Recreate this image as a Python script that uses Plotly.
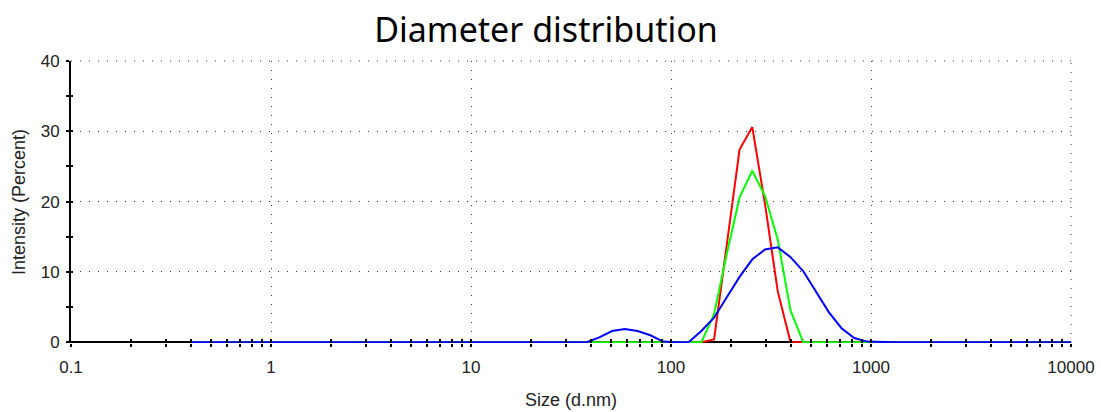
import plotly.graph_objects as go

# Size bins (d.nm)
sizes = [0.4, 0.4632, 0.5365, 0.6213, 0.7195, 0.8332, 0.9649, 1.117, 1.294, 1.499,
         1.736, 2.01, 2.328, 2.696, 3.122, 3.615, 4.187, 4.849, 5.615, 6.503,
         7.531, 8.721, 10.1, 11.7, 13.54, 15.69, 18.17, 21.04, 24.36, 28.21,
         32.67, 37.84, 43.82, 50.75, 58.77, 68.06, 78.82, 91.28, 105.7, 122.4,
         141.8, 164.2, 190.1, 220.2, 255.0, 295.3, 342.0, 396.1, 458.7, 531.2,
         615.1, 712.4, 825.0, 955.4, 1106, 1281, 1484, 1718, 1990, 2305,
         2669, 3091, 3580, 4145, 4801, 5560, 6439, 7456, 8635, 10000]

# Intensity (%) per bin
red_vals = [0] * 40 + [0, 0.4, 13.8, 27.4, 30.6, 19.6, 7.2, 0] + [0] * 22
green_vals = [0] * 40 + [0, 4.0, 12.6, 20.6, 24.4, 20.8, 14.6, 4.5, 0] + [0] * 21
blue_vals = ([0] * 32
             + [0.7, 1.6, 1.9, 1.6, 1.0, 0.1, 0, 0,
                1.6, 3.5, 6.4, 9.3, 11.8, 13.2, 13.5, 12.1, 10.1, 7.2, 4.3, 2.0, 0.6, 0.1, 0]
             + [0] * 15)

x_tickvals = [0.1, 1, 10, 100, 1000, 10000]
x_ticktext = ["0.1", "1", "10", "100", "1000", "10000"]
x_minor = [m * 10 ** e for e in range(-1, 4) for m in range(2, 10)]
y_tickvals = [0, 10, 20, 30, 40]
y_minor = [5, 15, 25, 35]
Y_RANGE = [-0.1, 40]

GRID_COLOR = "#333333"
GRID_DASH = "1px,8px"

fig = go.Figure()
for vals, col in [(red_vals, "#ff0000"), (green_vals, "#00ff00"), (blue_vals, "#0000ff")]:
    fig.add_trace(go.Scatter(x=sizes, y=vals, mode="lines",
                             line=dict(color=col, width=2), showlegend=False,
                             hoverinfo="skip"))
# invisible trace on overlay axes (for crossing ticks)
fig.add_trace(go.Scatter(x=[1], y=[0], xaxis="x2", yaxis="y2", mode="markers",
                         marker=dict(opacity=0), showlegend=False, hoverinfo="skip"))

tickfont = dict(family="Liberation Sans, Arial, sans-serif", size=17, color="#222222")
grid_common = dict(showgrid=True, gridcolor=GRID_COLOR, gridwidth=1, griddash=GRID_DASH)

fig.update_layout(
    width=1101, height=412,
    margin=dict(l=71, r=30, t=61, b=69, autoexpand=False),
    paper_bgcolor="white", plot_bgcolor="white",
    title=dict(text="Diameter distribution", x=546 / 1101, xref="container",
               xanchor="center", y=1 - 30 / 412, yref="container", yanchor="middle",
               font=dict(family="Noto Sans, Open Sans, sans-serif", size=34, color="#000000")),
    xaxis=dict(type="log", range=[-1, 4], tickvals=x_tickvals, ticktext=x_ticktext,
               ticks="outside", ticklen=3, tickwidth=1.5, tickcolor="#000000",
               minor=dict(tickvals=x_minor, ticks="outside", ticklen=3, tickwidth=1.5,
                          tickcolor="#000000", showgrid=False),
               showline=False, zeroline=False,
               tickfont=tickfont, ticklabelstandoff=6,
               title=dict(text="Size (d.nm)", standoff=16,
                          font=dict(family="Liberation Sans, Arial, sans-serif", size=18,
                                    color="#222222")),
               automargin=False, fixedrange=True, **grid_common),
    yaxis=dict(range=Y_RANGE, tickvals=y_tickvals,
               ticks="outside", ticklen=3, tickwidth=1.5, tickcolor="#000000",
               minor=dict(tickvals=y_minor, ticks="outside", ticklen=3, tickwidth=1.5,
                          tickcolor="#000000", showgrid=False),
               showline=True, linecolor="#000000", linewidth=2,
               zeroline=True, zerolinecolor="#000000", zerolinewidth=2,
               layer="below traces",
               tickfont=tickfont, ticklabelstandoff=3,
               title=dict(text="Intensity (Percent)", standoff=10,
                          font=dict(family="Liberation Sans, Arial, sans-serif", size=18,
                                    color="#222222")),
               automargin=False, fixedrange=True, **grid_common),
    xaxis2=dict(type="log", range=[-1, 4], overlaying="x", anchor="y", side="bottom",
                tickvals=x_tickvals, ticks="inside", ticklen=4, tickwidth=1.5,
                tickcolor="#000000",
                minor=dict(tickvals=x_minor, ticks="inside", ticklen=4, tickwidth=1.5,
                           tickcolor="#000000", showgrid=False),
                showticklabels=False, showgrid=False, showline=False, zeroline=False,
                fixedrange=True),
    yaxis2=dict(range=Y_RANGE, overlaying="y", anchor="x", side="left",
                tickvals=y_tickvals, ticks="inside", ticklen=2, tickwidth=1.5,
                tickcolor="#000000",
                minor=dict(tickvals=y_minor, ticks="inside", ticklen=2, tickwidth=1.5,
                           tickcolor="#000000", showgrid=False),
                showticklabels=False, showgrid=False, showline=False, zeroline=False,
                fixedrange=True),
    shapes=[
        # dotted frame edges (grid lines at the top and right range limits)
        dict(type="line", xref="paper", yref="paper", x0=0, x1=1, y0=1, y1=1,
             line=dict(color=GRID_COLOR, width=1, dash=GRID_DASH), layer="below"),
        dict(type="line", xref="paper", yref="paper", x0=1, x1=1, y0=0, y1=1,
             line=dict(color=GRID_COLOR, width=1, dash=GRID_DASH), layer="below"),
    ],
)

fig.write_html("out.html", config={"displayModeBar": False})
